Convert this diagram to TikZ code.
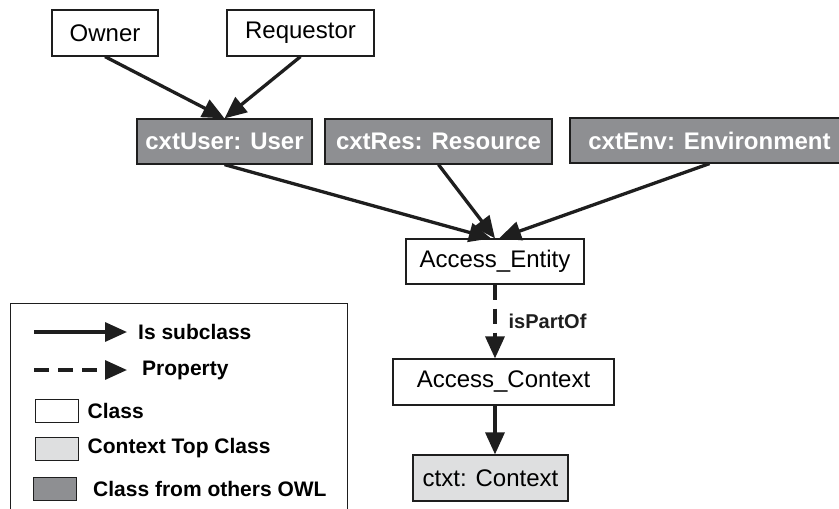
\documentclass[tikz,border=0pt]{standalone}
\usepackage{fontspec}
\setmainfont{Liberation Sans}
\usepackage{tikz}
\usetikzlibrary{arrows.meta,positioning}
\definecolor{owlGray}{HTML}{8E8F92}
\definecolor{topGray}{HTML}{DEDFE0}
\definecolor{edgeInk}{HTML}{1E1E1E}

\begin{document}
\begin{tikzpicture}[
  x=1pt, y=-1pt,
  cls/.style={draw=edgeInk, line width=1.2pt, fill=white, inner sep=0pt, minimum height=46pt, font=\fontsize{24}{28}\selectfont},
  top/.style={cls, fill=topGray},
  owl/.style={cls, fill=owlGray, text=white, font=\fontsize{24}{28}\selectfont\bfseries},
  swatch/.style={draw=edgeInk, line width=1pt, inner sep=0pt, minimum width=43pt, minimum height=23pt},
  key/.style={font=\fontsize{21}{25}\selectfont\bfseries, inner sep=0pt, anchor=west},
  arr/.style={-{Triangle[length=22pt, width=19pt]}, line width=3.3pt, color=edgeInk},
  prop/.style={arr, dash pattern=on 15pt off 9pt}
]
  \useasboundingbox (0,0) rectangle (839,509);
  \clip (0,0) rectangle (839,509);

  \node[cls, minimum width=106pt] (owner) at (105,33) {Owner};
  \node[cls, minimum width=147pt] (req) at (300.5,33) {Requestor};
  \node[owl, minimum width=175pt, minimum height=45pt] (user) at (224.5,141.5) {cxtUser: User};
  \node[owl, minimum width=227pt, minimum height=45pt] (res) at (438.5,141.5) {cxtRes: Resource};
  \node[owl, minimum width=279pt, minimum height=45pt] (env) at (709.5,140.5) {cxtEnv: Environment};
  \node[cls, minimum width=178pt, minimum height=45pt] (ent) at (495,261.5) {Access\_Entity};
  \node[cls, minimum width=221pt] (ctx) at (503.5,382) {Access\_Context};
  \node[top, minimum width=155pt] (ctxt) at (490.5,478) {ctxt: Context};

  \draw[arr] (owner.south) -- (user.north);
  \draw[arr] (req.south) -- (user.north);
  \draw[arr] (user.south) -- ([xshift=-4pt]ent.north);
  \draw[arr] (res.south) -- (ent.north);
  \draw[arr] (env.south) -- ([xshift=4pt]ent.north);
  \draw[prop] (ent.south) -- node[right=12pt, font=\fontsize{20}{24}\selectfont\bfseries, inner sep=0pt] {isPartOf} (ent.south |- ctx.north);
  \draw[arr] (ent.south |- ctx.south) -- (ent.south |- ctxt.north);

  % legend
  \draw[edgeInk, line width=1pt] (10,303) rectangle (347,530);
  \coordinate (subA) at (34,332);
  \coordinate (subB) at (127,332);
  \coordinate (propA) at (34,370);
  \coordinate (propB) at (127,370);
  \draw[arr] (subA) -- (subB);
  \draw[prop] (propA) -- (propB);
  \node[key, right=11pt of subB] (subKey) {Is subclass};
  \node[key, right=15pt of propB] (propKey) {Property};
  \node[swatch, fill=white] (clsBox) at (56.5,410.5) {};
  \node[swatch, fill=topGray] (topBox) at (56.5,448.5) {};
  \node[swatch, fill=owlGray] (owlBox) at (55,488.5) {};
  \node[key, right=9pt of clsBox] (clsKey) {Class};
  \node[key, right=9pt of topBox] (topKey) {Context Top Class};
  \node[key, right=16pt of owlBox] (owlKey) {Class from others OWL};
\end{tikzpicture}
\end{document}
